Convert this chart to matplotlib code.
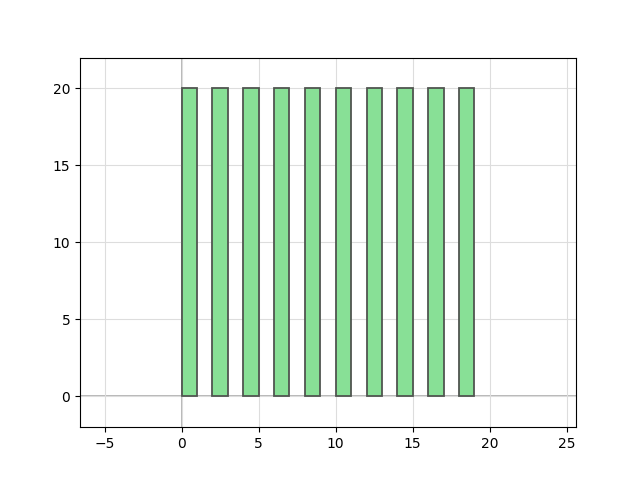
import matplotlib
matplotlib.use('Agg')
import matplotlib.pyplot as plt
from matplotlib.patches import Rectangle

# bar data
bar_x = [0, 2, 4, 6, 8, 10, 12, 14, 16, 18]
bar_w = [1, 1, 1, 1, 1, 1, 1, 1, 1, 1]
bar_h = [20, 20, 20, 20, 20, 20, 20, 20, 20, 20]

fig, ax = plt.subplots(figsize=(6.4, 4.8), dpi=100)

for x, w, h in zip(bar_x, bar_w, bar_h):
    ax.add_patch(Rectangle((x, 0), w, h, facecolor='#88e096',
                           edgecolor='#505550', linewidth=1.3))

ax.axhline(0, color='#aaaaaa', lw=1.2, zorder=0)
ax.axvline(0, color='#aaaaaa', lw=1.2, zorder=0)
ax.grid(True, color='#dddddd', lw=0.8)
ax.set_axisbelow(True)

ax.set_xlim(-6.6, 25.6)
ax.set_ylim(-2, 22)
ax.set_xticks([-5, 0, 5, 10, 15, 20, 25])
ax.set_yticks([0, 5, 10, 15, 20])

fig.savefig('out.png', dpi=100)
